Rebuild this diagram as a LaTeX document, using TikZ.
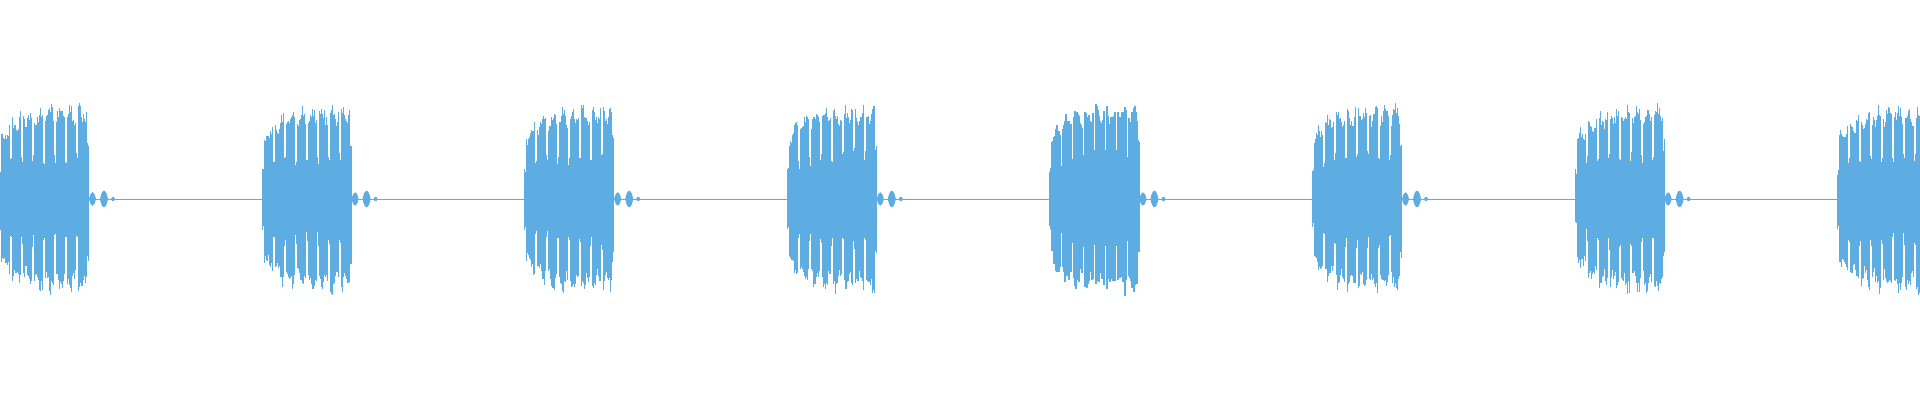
\documentclass[tikz,border=0pt]{standalone}
\definecolor{wave}{RGB}{93,173,226}
\begin{document}
\begin{tikzpicture}[x=0.5pt,y=0.5pt]
\useasboundingbox (0,0) rectangle (1920,400);
\pgfmathsetseed{7}
\fill[wave] (0,200.6) rectangle (1920,201.4);
\foreach \k in {0,...,7}{
  \pgfmathsetmacro{\xs}{-1+262.6*\k}
  \foreach \t in {0,...,89}{
    \pgfmathsetmacro{\env}{(97-34*exp(-\t/14))*(0.93+0.07*sin(\t*37+\k*50))}
    \pgfmathsetmacro{\p}{mod(\t,11)}
    \pgfmathsetmacro{\hu}{(\p<2 ? 0.4+0.15*rnd : 0.86+0.14*rnd)*\env + (\t>87 ? 12 : 0)}
    \pgfmathsetmacro{\hl}{(\p<2 ? 0.4+0.15*rnd : 0.84+0.16*rnd)*\env + (\t>87 ? 14 : 0)}
    \fill[wave] (\xs+\t,201+\hu) rectangle (\xs+\t+1.1,201-\hl);
  }
  \fill[wave] (\xs+90,201) .. controls (\xs+92,210) and (\xs+95,210) .. (\xs+97,201)
     .. controls (\xs+95,192) and (\xs+92,192) .. (\xs+90,201);
  \fill[wave] (\xs+101,201) .. controls (\xs+103,212) and (\xs+107,212) .. (\xs+109,201)
     .. controls (\xs+107,190) and (\xs+103,190) .. (\xs+101,201);
  \fill[wave] (\xs+112,201) .. controls (\xs+113,204) and (\xs+115,204) .. (\xs+116,201)
     .. controls (\xs+115,198) and (\xs+113,198) .. (\xs+112,201);
}
\end{tikzpicture}
\end{document}
